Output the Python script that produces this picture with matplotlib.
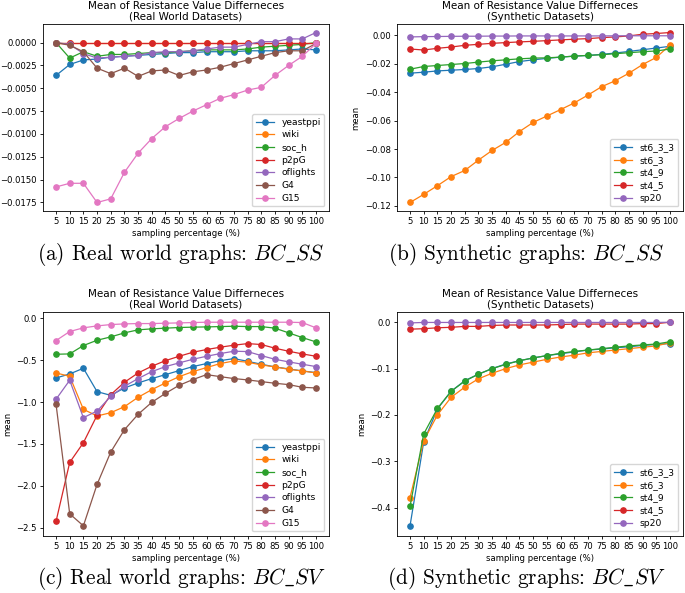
import matplotlib
matplotlib.use('Agg')
import matplotlib.pyplot as plt

# x-Werte (Sampling-Prozent)
pct = [5, 10, 15, 20, 25, 30, 35, 40, 45, 50, 55, 60, 65, 70, 75, 80, 85, 90, 95, 100]

# (a) Real world, BC_SS
real_names = ['yeastppi', 'wiki', 'soc_h', 'p2pG', 'oflights', 'G4', 'G15']
a_yeastppi = [-0.0036, -0.0024, -0.0019, -0.0018, -0.0016, -0.0015, -0.0014, -0.0013, -0.0012, -0.0011,
              -0.0011, -0.0010, -0.0010, -0.0010, -0.0009, -0.0009, -0.0009, -0.0008, -0.0007, -0.0008]
a_wiki = [0.0000, 0.0000, 0.0000, 0.0000, 0.0000, 0.0000, 0.0000, 0.0000, 0.0000, 0.0000,
          0.0000, 0.0000, 0.0000, 0.0000, 0.0000, 0.0000, 0.0000, 0.0000, 0.0000, 0.0000]
a_soc_h = [0.0000, -0.0017, -0.0010, -0.0015, -0.0013, -0.0013, -0.0012, -0.0011, -0.0011, -0.0010,
           -0.0009, -0.0008, -0.0008, -0.0008, -0.0007, -0.0005, -0.0004, -0.0003, -0.0002, 0.0000]
a_p2pG = [0.0000, 0.0000, 0.0000, 0.0000, 0.0000, 0.0000, 0.0000, 0.0000, 0.0000, 0.0000,
          0.0000, 0.0000, 0.0000, 0.0000, 0.0000, 0.0000, 0.0000, 0.0000, 0.0000, 0.0000]
a_oflights = [0.0000, -0.0002, -0.0012, -0.0017, -0.0016, -0.0015, -0.0014, -0.0011, -0.0010, -0.0010,
              -0.0009, -0.0007, -0.0005, -0.0005, -0.0002, 0.0001, 0.0001, 0.0004, 0.0004, 0.0011]
a_G4 = [0.0000, -0.0003, -0.0010, -0.0028, -0.0034, -0.0028, -0.0037, -0.0031, -0.0030, -0.0036,
        -0.0032, -0.0030, -0.0027, -0.0023, -0.0019, -0.0015, -0.0011, -0.0009, -0.0009, -0.0001]
a_G15 = [-0.0158, -0.0154, -0.0154, -0.0175, -0.0171, -0.0142, -0.0121, -0.0105, -0.0092, -0.0083,
         -0.0075, -0.0068, -0.0061, -0.0057, -0.0052, -0.0049, -0.0036, -0.0025, -0.0015, -0.0001]

# (b) Synthetic, BC_SS
syn_names = ['st6_3_3', 'st6_3', 'st4_9', 'st4_5', 'sp20']
b_st6_3_3 = [-0.0267, -0.0260, -0.0251, -0.0246, -0.0241, -0.0234, -0.0222, -0.0204, -0.0185, -0.0173,
             -0.0163, -0.0154, -0.0147, -0.0142, -0.0135, -0.0125, -0.0114, -0.0102, -0.0090, -0.0078]
b_st6_3 = [-0.1176, -0.1119, -0.1058, -0.0994, -0.0951, -0.0878, -0.0810, -0.0753, -0.0677, -0.0613,
           -0.0568, -0.0523, -0.0476, -0.0421, -0.0362, -0.0320, -0.0267, -0.0206, -0.0156, -0.0069]
b_st4_9 = [-0.0239, -0.0220, -0.0213, -0.0206, -0.0199, -0.0189, -0.0180, -0.0173, -0.0166, -0.0161,
           -0.0159, -0.0154, -0.0147, -0.0142, -0.0137, -0.0130, -0.0123, -0.0116, -0.0111, -0.0097]
b_st4_5 = [-0.0097, -0.0104, -0.0092, -0.0083, -0.0071, -0.0064, -0.0057, -0.0052, -0.0047, -0.0043,
           -0.0038, -0.0033, -0.0028, -0.0024, -0.0017, -0.0012, -0.0005, 0.0007, 0.0012, 0.0019]
b_sp20 = [-0.0012, -0.0010, -0.0009, -0.0008, -0.0007, -0.0007, -0.0006, -0.0006, -0.0005, -0.0005,
          -0.0005, -0.0005, -0.0005, -0.0005, -0.0005, -0.0004, -0.0004, -0.0004, -0.0004, -0.0004]

# (c) Real world, BC_SV
c_yeastppi = [-0.713, -0.665, -0.597, -0.876, -0.920, -0.832, -0.772, -0.720, -0.673, -0.625,
              -0.577, -0.541, -0.506, -0.482, -0.514, -0.549, -0.581, -0.605, -0.629, -0.649]
c_wiki = [-0.653, -0.693, -1.087, -1.166, -1.127, -1.055, -0.943, -0.852, -0.772, -0.697,
          -0.637, -0.589, -0.541, -0.510, -0.525, -0.557, -0.581, -0.609, -0.629, -0.653]
c_soc_h = [-0.430, -0.426, -0.326, -0.263, -0.223, -0.175, -0.139, -0.127, -0.119, -0.111,
           -0.107, -0.104, -0.100, -0.096, -0.100, -0.100, -0.119, -0.175, -0.231, -0.283]
c_p2pG = [-2.424, -1.720, -1.485, -1.158, -0.912, -0.764, -0.653, -0.573, -0.506, -0.454,
          -0.406, -0.374, -0.346, -0.322, -0.303, -0.314, -0.358, -0.394, -0.426, -0.454]
c_oflights = [-0.967, -0.740, -1.186, -1.107, -0.932, -0.812, -0.720, -0.637, -0.577, -0.533,
              -0.490, -0.454, -0.422, -0.394, -0.398, -0.446, -0.490, -0.521, -0.549, -0.577]
c_G4 = [-1.023, -2.333, -2.476, -1.982, -1.596, -1.330, -1.146, -1.003, -0.896, -0.800,
        -0.732, -0.673, -0.697, -0.720, -0.736, -0.756, -0.776, -0.792, -0.824, -0.832]
c_G15 = [-0.267, -0.159, -0.115, -0.092, -0.076, -0.068, -0.064, -0.064, -0.060, -0.056,
         -0.052, -0.048, -0.048, -0.048, -0.048, -0.048, -0.048, -0.048, -0.052, -0.115]

# (d) Synthetic, BC_SV
d_st6_3_3 = [-0.439, -0.258, -0.187, -0.149, -0.126, -0.112, -0.100, -0.090, -0.083, -0.077,
             -0.072, -0.068, -0.064, -0.060, -0.058, -0.055, -0.053, -0.050, -0.048, -0.046]
d_st6_3 = [-0.378, -0.256, -0.200, -0.162, -0.140, -0.122, -0.110, -0.100, -0.092, -0.086,
           -0.080, -0.075, -0.071, -0.066, -0.063, -0.060, -0.057, -0.054, -0.051, -0.044]
d_st4_9 = [-0.397, -0.241, -0.186, -0.149, -0.127, -0.112, -0.100, -0.091, -0.083, -0.077,
           -0.072, -0.067, -0.063, -0.060, -0.057, -0.054, -0.051, -0.049, -0.047, -0.042]
d_st4_5 = [-0.015, -0.014, -0.012, -0.011, -0.009, -0.009, -0.007, -0.006, -0.006, -0.006,
           -0.006, -0.005, -0.004, -0.004, -0.004, -0.004, -0.004, -0.003, -0.003, 0.000]
d_sp20 = [-0.0015, -0.0005, -0.0005, -0.0005, -0.0005, -0.0005, -0.0005, -0.0005, -0.0005, -0.0005,
          -0.0005, -0.0005, -0.0005, -0.0005, -0.0005, -0.0005, -0.0005, -0.0005, -0.0005, 0.0000]

fs = 6.1
plt.rcParams['mathtext.fontset'] = 'cm'

fig = plt.figure(figsize=(6.85, 5.93), dpi=100)

def panel(rect, series, names, subtitle, ylabel):
    ax = fig.add_axes(rect)
    for ys, name in zip(series, names):
        ax.plot(pct, ys, marker='o', markersize=3.8, linewidth=0.9, label=name)
    ax.set_xticks(pct)
    ax.set_xticklabels([str(p) for p in pct])
    ax.tick_params(labelsize=fs, length=2.5, width=0.6, pad=2)
    for s in ax.spines.values():
        s.set_linewidth(0.6)
    ax.set_title('Mean of Resistance Value Differneces\n' + subtitle, fontsize=7.5, pad=3, linespacing=1.1)
    ax.set_xlabel('sampling percentage (%)', fontsize=fs, labelpad=2)
    if ylabel:
        ax.set_ylabel('mean', fontsize=fs, labelpad=3)
    ax.legend(loc='lower right', fontsize=6.6, handlelength=2.0, borderpad=0.4, labelspacing=0.4)
    return ax

panel([0.0628, 0.6442, 0.4175, 0.3153],
      [a_yeastppi, a_wiki, a_soc_h, a_p2pG, a_oflights, a_G4, a_G15],
      real_names, '(Real World Datasets)', False)
panel([0.5796, 0.6442, 0.4175, 0.3153],
      [b_st6_3_3, b_st6_3, b_st4_9, b_st4_5, b_sp20],
      syn_names, '(Synthetic Datasets)', True)
panel([0.0628, 0.0961, 0.4175, 0.3777],
      [c_yeastppi, c_wiki, c_soc_h, c_p2pG, c_oflights, c_G4, c_G15],
      real_names, '(Real World Datasets)', True)
panel([0.5796, 0.0961, 0.4175, 0.3777],
      [d_st6_3_3, d_st6_3, d_st4_9, d_st4_5, d_sp20],
      syn_names, '(Synthetic Datasets)', True)

# Bildunterschriften
caps = [(181, 255, r'(a) Real world graphs: $BC\_SS$'),
        (526, 255, r'(b) Synthetic graphs: $BC\_SS$'),
        (181, 578, r'(c) Real world graphs: $BC\_SV$'),
        (526, 578, r'(d) Synthetic graphs: $BC\_SV$')]
for x, y, t in caps:
    fig.text(x / 685, 1 - y / 593, t, ha='center', va='center', fontsize=15.3, family='cmr10')

fig.savefig('out.png', dpi=100)
